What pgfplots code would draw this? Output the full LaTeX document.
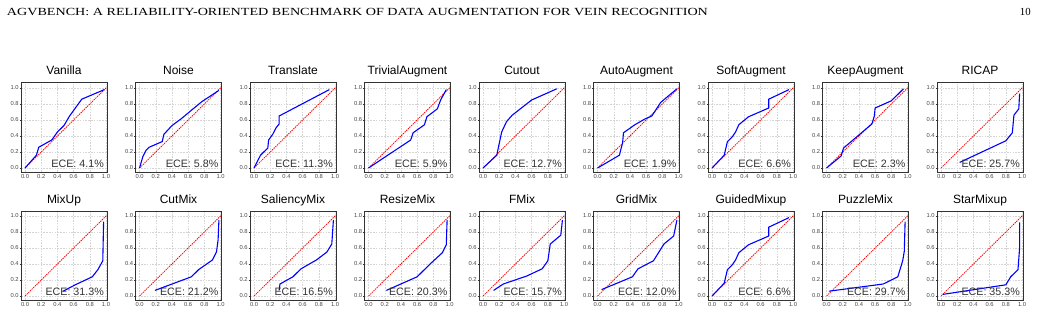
\documentclass[border=0pt]{standalone}
\usepackage{pgfplots}
\pgfplotsset{compat=1.18}
\usepackage{fontspec}
\setmainfont{Liberation Sans}
\newfontfamily\hdrfont{Liberation Serif}

\definecolor{frame}{RGB}{51,51,51}
\definecolor{ticktext}{RGB}{70,70,70}
\definecolor{gridc}{RGB}{212,212,212}

\pgfplotsset{
  rel/.style={
    scale only axis, width=86pt, height=89pt,
    xmin=-0.05, xmax=1.012, ymin=-0.05, ymax=1.0625,
    xtick={0,0.2,0.4,0.6,0.8,1.0}, ytick={0,0.2,0.4,0.6,0.8,1.0},
    grid=major,
    major grid style={gridc, line width=0.45pt, dash pattern=on 1.6pt off 1.2pt},
    axis line style={frame, line width=1pt},
    tick align=outside, major tick length=1.3pt,
    tick style={frame, line width=0.4pt},
    xtick pos=bottom, ytick pos=left,
    /pgf/number format/assume math mode=true,
    /pgf/number format/fixed, /pgf/number format/fixed zerofill,
    /pgf/number format/precision=1,
    tick label style={font=\fontsize{5.8}{5.8}\selectfont, text=ticktext},
    xticklabel style={inner sep=0.5pt},
    yticklabel style={inner sep=0.8pt},
    every axis title shift=0pt,
    title style={font=\fontsize{12}{12}\selectfont, at={(0.5,1)}, anchor=base, yshift=8pt},
    clip=false,
  }
}

% one reliability diagram: column, top edge, title, ECE value, curve
\newcommand{\panel}[5]{%
  \begin{axis}[rel, at={({21pt+#1*114.5pt},{#2})}, anchor=north west, title={#3}]
    \addplot[red, line width=0.8pt, dash pattern=on 1.4pt off 0.9pt] coordinates {(0,0) (1,1)};
    \addplot[blue, line width=1.1pt] coordinates {#5};
    \node[anchor=base east, inner sep=0pt, font=\fontsize{10.7}{10.7}\selectfont, text=frame]
      at (rel axis cs:0.965,0.056) {ECE: #4\%};
  \end{axis}}

\begin{document}
\begin{tikzpicture}
\path[use as bounding box] (0pt,0pt) rectangle (1041pt,311pt);

% running header
\node[anchor=base west, inner sep=0pt] at (6.7pt,295.3pt)
  {\resizebox{701pt}{7.2pt}{\hdrfont AGVBENCH: A RELIABILITY-ORIENTED BENCHMARK OF DATA AUGMENTATION FOR VEIN RECOGNITION}};
\node[anchor=base east, inner sep=0pt] at (1031pt,295.3pt)
  {\resizebox{!}{7.2pt}{\hdrfont 10}};

% first row
\panel{0}{228pt}{Vanilla}{4.1}{(0,0) (0.14,0.16) (0.17,0.26) (0.33,0.35) (0.40,0.45) (0.48,0.53) (0.55,0.65) (0.70,0.86) (0.98,0.98)}
\panel{1}{228pt}{Noise}{5.8}{(0,0) (0.04,0.14) (0.08,0.22) (0.12,0.26) (0.28,0.33) (0.30,0.42) (0.40,0.53) (0.52,0.62) (0.65,0.73) (0.77,0.83) (0.98,0.97)}
\panel{2}{228pt}{Translate}{11.3}{(0,0) (0.08,0.16) (0.17,0.25) (0.18,0.35) (0.23,0.42) (0.27,0.50) (0.31,0.55) (0.31,0.65) (0.93,0.98)}
\panel{3}{228pt}{TrivialAugment}{5.9}{(0,0) (0.52,0.35) (0.55,0.44) (0.69,0.54) (0.72,0.64) (0.85,0.74) (0.89,0.85) (0.96,0.98)}
\panel{4}{228pt}{Cutout}{12.7}{(0,0) (0.17,0.16) (0.19,0.26) (0.23,0.45) (0.29,0.58) (0.36,0.66) (0.60,0.85) (0.91,0.99)}
\panel{5}{228pt}{AutoAugment}{1.9}{(0,0) (0.27,0.16) (0.31,0.32) (0.32,0.44) (0.46,0.54) (0.58,0.61) (0.67,0.65) (0.78,0.82) (0.98,0.99)}
\panel{6}{228pt}{SoftAugment}{6.6}{(0,0) (0.15,0.16) (0.19,0.33) (0.25,0.39) (0.29,0.45) (0.33,0.54) (0.45,0.64) (0.70,0.75) (0.70,0.86) (0.95,0.98)}
\panel{7}{228pt}{KeepAugment}{2.3}{(0,0) (0.18,0.15) (0.21,0.25) (0.42,0.43) (0.56,0.55) (0.59,0.65) (0.60,0.75) (0.80,0.84) (0.95,0.99)}
\panel{8}{228pt}{RICAP}{25.7}{(0.23,0.07) (0.80,0.34) (0.88,0.44) (0.90,0.66) (0.96,0.74) (0.97,0.93)}

% second row
\panel{0}{100pt}{MixUp}{31.3}{(0.47,0.06) (0.62,0.14) (0.83,0.24) (0.90,0.33) (0.96,0.44) (0.97,0.93)}
\panel{1}{100pt}{CutMix}{21.2}{(0.19,0.07) (0.64,0.24) (0.73,0.33) (0.90,0.45) (0.95,0.55) (0.97,0.70) (0.98,0.95)}
\panel{2}{100pt}{SaliencyMix}{16.5}{(0.31,0.07) (0.32,0.15) (0.48,0.24) (0.58,0.34) (0.77,0.45) (0.90,0.55) (0.96,0.65) (0.98,0.95)}
\panel{3}{100pt}{ResizeMix}{20.3}{(0.22,0.07) (0.60,0.24) (0.76,0.40) (0.91,0.54) (0.96,0.64) (0.97,0.95)}
\panel{4}{100pt}{FMix}{15.7}{(0.13,0.07) (0.25,0.15) (0.54,0.25) (0.73,0.34) (0.80,0.44) (0.83,0.65) (0.96,0.76) (0.98,0.95)}
\panel{5}{100pt}{GridMix}{12.0}{(0.05,0.08) (0.43,0.24) (0.50,0.34) (0.69,0.44) (0.82,0.65) (0.94,0.75) (0.98,0.95)}
\panel{6}{100pt}{GuidedMixup}{6.6}{(0,0) (0.15,0.16) (0.19,0.33) (0.25,0.39) (0.29,0.45) (0.33,0.54) (0.45,0.64) (0.70,0.75) (0.70,0.86) (0.95,0.98)}
\panel{7}{100pt}{PuzzleMix}{29.7}{(0.03,0.06) (0.70,0.15) (0.88,0.24) (0.94,0.44) (0.96,0.56) (0.97,0.93)}
\panel{8}{100pt}{StarMixup}{35.3}{(0.02,0.02) (0.80,0.14) (0.86,0.24) (0.95,0.33) (0.97,0.60) (0.97,0.92)}
\end{tikzpicture}
\end{document}
